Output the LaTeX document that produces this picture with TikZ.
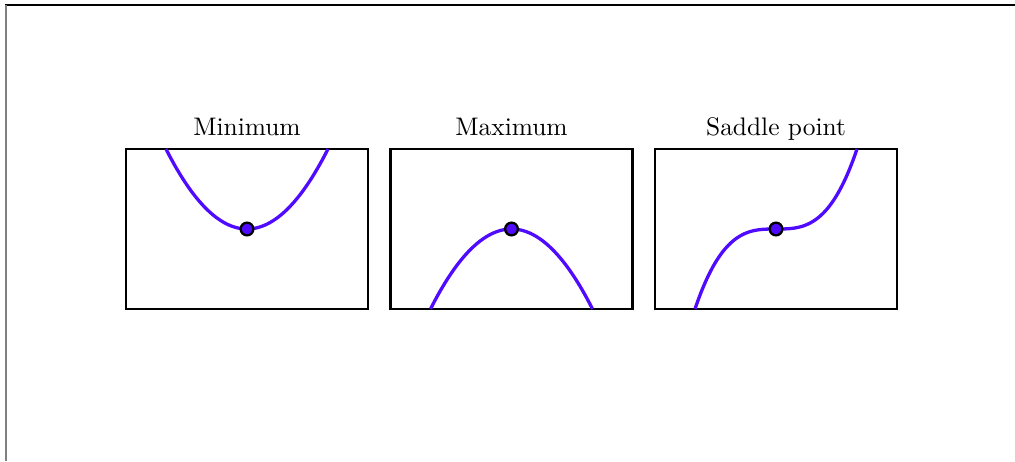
\documentclass[tikz,border=0pt]{standalone}
\usepackage{amsmath}
\usepackage{xcolor}
\definecolor{curveblue}{RGB}{80,10,255}
\tikzset{
    panel/.style={draw, line width=1.1pt},
    curve/.style={curveblue, line width=1.3pt, smooth, samples=60},
    statpt/.style={circle, draw, fill=curveblue, line width=0.9pt, inner sep=0pt, minimum size=5pt},
    title/.style={anchor=base, font=\normalsize},
}

\begin{document}
\begin{tikzpicture}[x=0.01384cm,y=0.01384cm]
    \useasboundingbox (0,0) rectangle (1015,461);
    % screenshot frame
    \draw[line width=0.6pt] (5,456) -- (1015,456);
    \draw[gray, line width=1pt] (6,0) -- (6,456.3);
    % minimum
    \begin{scope}[shift={(247,232)}]
        \draw[panel] (-121,-80) rectangle (121,80);
        \draw[curve, domain=-81:81] plot (\x, {80*(\x/81)^2});
        \node[statpt] (min) at (0,0) {};
        \node[title] (mintitle) at (0,93) {Minimum};
    \end{scope}
    % maximum
    \begin{scope}[shift={(511.5,232)}]
        \draw[panel] (-121,-80) rectangle (121,80);
        \draw[curve, domain=-81:81] plot (\x, {-80*(\x/81)^2});
        \node[statpt] (max) at (0,0) {};
        \node[title] (maxtitle) at (0,93) {Maximum};
    \end{scope}
    % saddle
    \begin{scope}[shift={(776,232)}]
        \draw[panel] (-121,-80) rectangle (121,80);
        \draw[curve, domain=-81:81] plot (\x, {80*(\x/81)^3});
        \node[statpt] (sad) at (0,0) {};
        \node[title] (sadtitle) at (0,93) {Saddle point};
    \end{scope}
\end{tikzpicture}
\end{document}
